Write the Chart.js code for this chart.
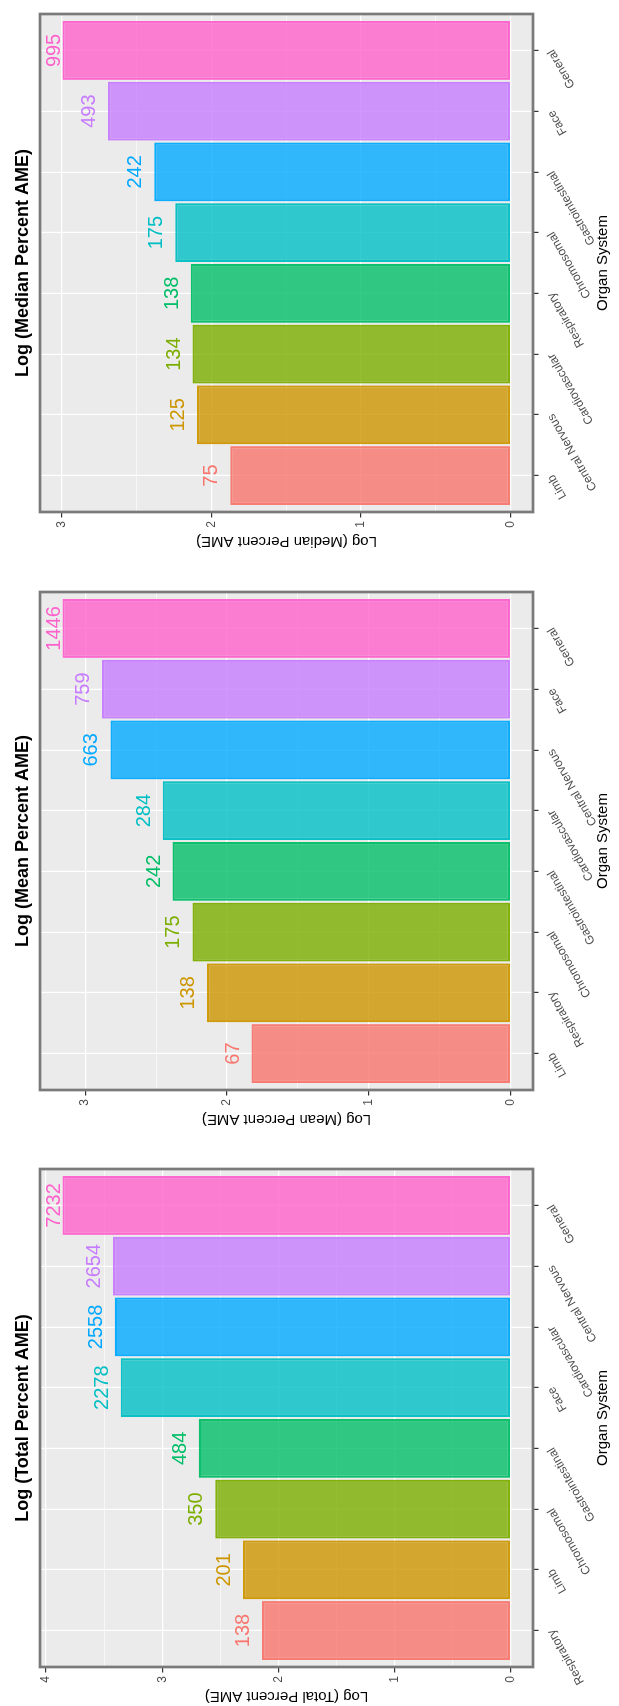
<!DOCTYPE html>
<html>
<head>
<meta charset="utf-8">
<title>Log Percent AME by Organ System</title>
<script src="https://cdn.jsdelivr.net/npm/chart.js@4.4.1/dist/chart.umd.min.js"></script>
<style>
    html, body { margin: 0; padding: 0; background: #fff; }
    body { width: 619px; height: 1706px; overflow: hidden; position: relative; }
    /* the three plots sit side by side in a wide strip, which is then turned on its side */
    #strip {
        position: absolute; left: 0; top: 0;
        width: 1706px; height: 619px;
        transform-origin: 0 0;
        transform: translate(0px, 1706px) rotate(-90deg);
    }
    .plot { position: absolute; top: 0; height: 619px; }
</style>
</head>
<body>
<div id="strip">
    <div class="plot" style="left:0px;width:577px"><canvas id="total-chart"></canvas></div>
    <div class="plot" style="left:577px;width:578px"><canvas id="mean-chart"></canvas></div>
    <div class="plot" style="left:1155px;width:551px"><canvas id="median-chart"></canvas></div>
</div>
<script>
// Organ systems, ordered by value within each measure
const totalSystems = ['Respiratory', 'Limb', 'Chromosomal', 'Gastrointestinal', 'Face', 'Cardiovascular', 'Central Nervous', 'General'];
const totalValues = [138, 201, 350, 484, 2278, 2558, 2654, 7232];
const totalTicks = [0, 1, 2, 3, 4];

const meanSystems = ['Limb', 'Respiratory', 'Chromosomal', 'Gastrointestinal', 'Cardiovascular', 'Central Nervous', 'Face', 'General'];
const meanValues = [67, 138, 175, 242, 284, 663, 759, 1446];
const meanTicks = [0, 1, 2, 3];

const medianSystems = ['Limb', 'Central Nervous', 'Cardiovascular', 'Respiratory', 'Chromosomal', 'Gastrointestinal', 'Face', 'General'];
const medianValues = [75, 125, 134, 138, 175, 242, 493, 995];
const medianTicks = [0, 1, 2, 3];

// ggplot's default hue palette for 8 groups
const hueColors = ['#F8766D', '#CD9600', '#7CAE00', '#00BE67', '#00BFC4', '#00A9FF', '#C77CFF', '#FF61CC'];

const FONT = "'Liberation Sans', Arial, Helvetica, sans-serif";
Chart.defaults.font.family = FONT;

function withAlpha(hex, a) {
    const n = parseInt(hex.slice(1), 16);
    return `rgba(${(n >> 16) & 255}, ${(n >> 8) & 255}, ${n & 255}, ${a})`;
}

// Grey panel behind the bars and the dark frame around it
const panelPlugin = {
    id: 'panel',
    beforeDraw(chart) {
        const { left, top, width, height } = chart.chartArea;
        const ctx = chart.ctx;
        ctx.save();
        ctx.fillStyle = '#EBEBEB';
        ctx.fillRect(left, top, width, height);
        ctx.restore();
    },
    afterDraw(chart) {
        const { left, top, width, height } = chart.chartArea;
        const ctx = chart.ctx;
        ctx.save();
        ctx.strokeStyle = '#7A7A7A';
        ctx.lineWidth = 2.7;
        ctx.strokeRect(left, top, width, height);
        ctx.restore();
    }
};

// Raw value written above each bar, kept inside the panel
const valueLabelPlugin = {
    id: 'valueLabels',
    afterDatasetsDraw(chart, args, opts) {
        const meta = chart.getDatasetMeta(0);
        const ctx = chart.ctx;
        const minBase = chart.chartArea.top + 5 + 14.5;
        ctx.save();
        ctx.font = `20px ${FONT}`;
        ctx.textAlign = 'center';
        ctx.textBaseline = 'alphabetic';
        meta.data.forEach((bar, i) => {
            const base = Math.max(bar.y - 13, minBase);
            ctx.fillStyle = hueColors[i];
            ctx.fillText(String(opts.values[i]), bar.x, base);
        });
        ctx.restore();
    }
};

function buildChart(canvasId, title, axisTitle, systems, values, majorTicks, rightPad) {
    const logs = values.map(v => Math.log10(v));
    const top = Math.max(...logs);

    // major breaks plus the halfway minor breaks between them
    const breaks = [];
    majorTicks.forEach((t, i) => {
        breaks.push(t);
        if (i < majorTicks.length - 1) breaks.push(t + 0.5);
    });

    const isMajor = v => Number.isInteger(v);

    return new Chart(document.getElementById(canvasId), {
        type: 'bar',
        data: {
            datasets: [{
                data: logs.map((y, i) => ({ x: i, y: y })),
                backgroundColor: hueColors.map(c => withAlpha(c, 0.8)),
                borderColor: hueColors.map(c => withAlpha(c, 0.95)),
                borderWidth: 2.2,
                borderSkipped: false,
                barPercentage: 0.97,
                categoryPercentage: 1.0
            }]
        },
        options: {
            responsive: true,
            maintainAspectRatio: false,
            animation: false,
            layout: { padding: { left: 0, top: 0, right: rightPad, bottom: 0 } },
            plugins: {
                legend: { display: false },
                tooltip: { enabled: false },
                title: {
                    display: true,
                    text: title,
                    fullSize: false,
                    color: '#000',
                    font: { size: 18, weight: 'bold', family: FONT },
                    padding: { top: 12, bottom: 6.4 }
                },
                valueLabels: { values: values }
            },
            scales: {
                x: {
                    type: 'linear',
                    min: -0.6,
                    max: systems.length - 0.4,
                    offset: false,
                    afterBuildTicks: axis => { axis.ticks = systems.map((s, i) => ({ value: i })); },
                    afterFit: axis => { axis.height = 86; },
                    border: { display: false },
                    grid: {
                        offset: false,
                        color: '#FFFFFF',
                        lineWidth: 1.2,
                        tickColor: '#333333',
                        tickLength: 5.5,
                        tickWidth: 1.2
                    },
                    ticks: {
                        autoSkip: false,
                        minRotation: 30,
                        maxRotation: 30,
                        padding: 6,
                        color: '#4D4D4D',
                        font: { size: 12 },
                        callback: v => systems[v]
                    },
                    title: {
                        display: true,
                        text: 'Organ System',
                        color: '#000',
                        font: { size: 15 },
                        padding: { top: 0, bottom: 6.7 }
                    }
                },
                y: {
                    min: -0.05 * top,
                    max: 1.05 * top,
                    afterBuildTicks: axis => { axis.ticks = breaks.map(v => ({ value: v })); },
                    afterFit: axis => { axis.width = 39; },
                    border: { display: false },
                    grid: {
                        color: '#FFFFFF',
                        lineWidth: ctx => isMajor(ctx.tick.value) ? 1.2 : 0.6,
                        tickColor: ctx => isMajor(ctx.tick.value) ? '#333333' : 'rgba(0,0,0,0)',
                        tickLength: 5.5,
                        tickWidth: 1.2
                    },
                    ticks: {
                        autoSkip: false,
                        padding: 3.5,
                        color: '#4D4D4D',
                        font: { size: 12 },
                        callback: v => isMajor(v) ? String(v) : ''
                    },
                    title: {
                        display: true,
                        text: axisTitle,
                        color: '#000',
                        font: { size: 15 },
                        padding: { top: 1, bottom: 0 }
                    }
                }
            }
        },
        plugins: [panelPlugin, valueLabelPlugin]
    });
}

buildChart('total-chart', 'Log (Total Percent AME)', 'Log (Total Percent AME)', totalSystems, totalValues, totalTicks, 40);
buildChart('mean-chart', 'Log (Mean Percent AME)', 'Log (Mean Percent AME)', meanSystems, meanValues, meanTicks, 41);
buildChart('median-chart', 'Log (Median Percent AME)', 'Log (Median Percent AME)', medianSystems, medianValues, medianTicks, 14);
</script>
</body>
</html>
